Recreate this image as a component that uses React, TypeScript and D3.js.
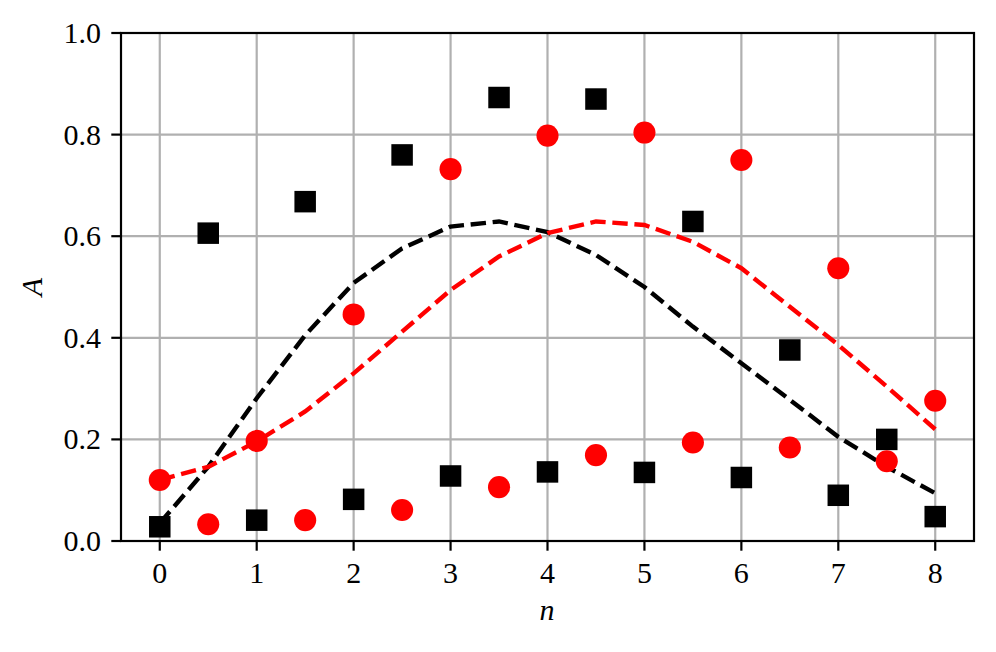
import React from "react";
import * as d3 from "d3";

const xs = [0, 0.5, 1, 1.5, 2, 2.5, 3, 3.5, 4, 4.5, 5, 5.5, 6, 6.5, 7, 7.5, 8];
const blackSquares = [0.028, 0.606, 0.041, 0.668, 0.082, 0.76, 0.128, 0.873, 0.136, 0.87, 0.135, 0.629, 0.125, 0.376, 0.09, 0.2, 0.048];
const redCircles = [0.12, 0.033, 0.197, 0.041, 0.446, 0.061, 0.732, 0.106, 0.798, 0.169, 0.804, 0.194, 0.75, 0.184, 0.537, 0.157, 0.276];
const blackLine = [0.035, 0.146, 0.281, 0.405, 0.508, 0.576, 0.619, 0.629, 0.608, 0.563, 0.5, 0.422, 0.35, 0.278, 0.205, 0.146, 0.094];
const redLine = [0.12, 0.146, 0.196, 0.255, 0.33, 0.412, 0.494, 0.56, 0.606, 0.629, 0.622, 0.589, 0.537, 0.461, 0.386, 0.304, 0.22];
const xTicks = [0, 1, 2, 3, 4, 5, 6, 7, 8];
const yTicks = [0, 0.2, 0.4, 0.6, 0.8, 1.0];

const W = 996, H = 652;
const L = 121, R = 974, T = 33, B = 541;

export default function App() {
  const x = d3.scaleLinear().domain([-0.4, 8.4]).range([L, R]);
  const y = d3.scaleLinear().domain([0, 1]).range([B, T]);
  const line = d3.line<number>().x((_, i) => x(xs[i])).y((d) => y(d));
  const font = "Liberation Serif, Times New Roman, Times, serif";
  const ms = 21.5;
  return (
    <svg width={W} height={H} style={{ position: "absolute", left: 0, top: 0, background: "#fff" }}>
      <defs>
        <clipPath id="clip"><rect x={L} y={T} width={R - L} height={B - T} /></clipPath>
      </defs>
      <g stroke="#b0b0b0" strokeWidth={2.2}>
        {xTicks.map((t) => <line key={"gx" + t} x1={x(t)} x2={x(t)} y1={T} y2={B} />)}
        {yTicks.map((t) => <line key={"gy" + t} x1={L} x2={R} y1={y(t)} y2={y(t)} />)}
      </g>
      <g clipPath="url(#clip)">
        <path d={line(blackLine) || ""} fill="none" stroke="#000" strokeWidth={4.4} strokeDasharray="15.4 6.7" />
        <path d={line(redLine) || ""} fill="none" stroke="#ff0000" strokeWidth={4.4} strokeDasharray="15.4 6.7" />
      </g>
      {blackSquares.map((v, i) => (
        <rect key={"s" + i} x={x(xs[i]) - ms / 2} y={y(v) - ms / 2} width={ms} height={ms} fill="#000" />
      ))}
      {redCircles.map((v, i) => (
        <circle key={"c" + i} cx={x(xs[i])} cy={y(v)} r={ms / 2 + 0.3} fill="#ff0000" />
      ))}
      <rect x={L} y={T} width={R - L} height={B - T} fill="none" stroke="#000" strokeWidth={2.2} />
      <g stroke="#000" strokeWidth={2.2}>
        {xTicks.map((t) => <line key={"tx" + t} x1={x(t)} x2={x(t)} y1={B} y2={B + 9.7} />)}
        {yTicks.map((t) => <line key={"ty" + t} x1={L - 9.7} x2={L} y1={y(t)} y2={y(t)} />)}
      </g>
      <g style={{ fontFamily: font }} fontSize={30} fill="#000">
        {xTicks.map((t) => (
          <text key={"lx" + t} x={x(t)} y={583} textAnchor="middle">{t}</text>
        ))}
        {yTicks.map((t) => (
          <text key={"ly" + t} x={101} y={y(t) + 10} textAnchor="end">{t.toFixed(1)}</text>
        ))}
        <text x={547} y={620} textAnchor="middle" fontStyle="italic">n</text>
        <text transform={`translate(42,${(T + B) / 2}) rotate(-90)`} textAnchor="middle" fontStyle="italic">A</text>
      </g>
    </svg>
  );
}
